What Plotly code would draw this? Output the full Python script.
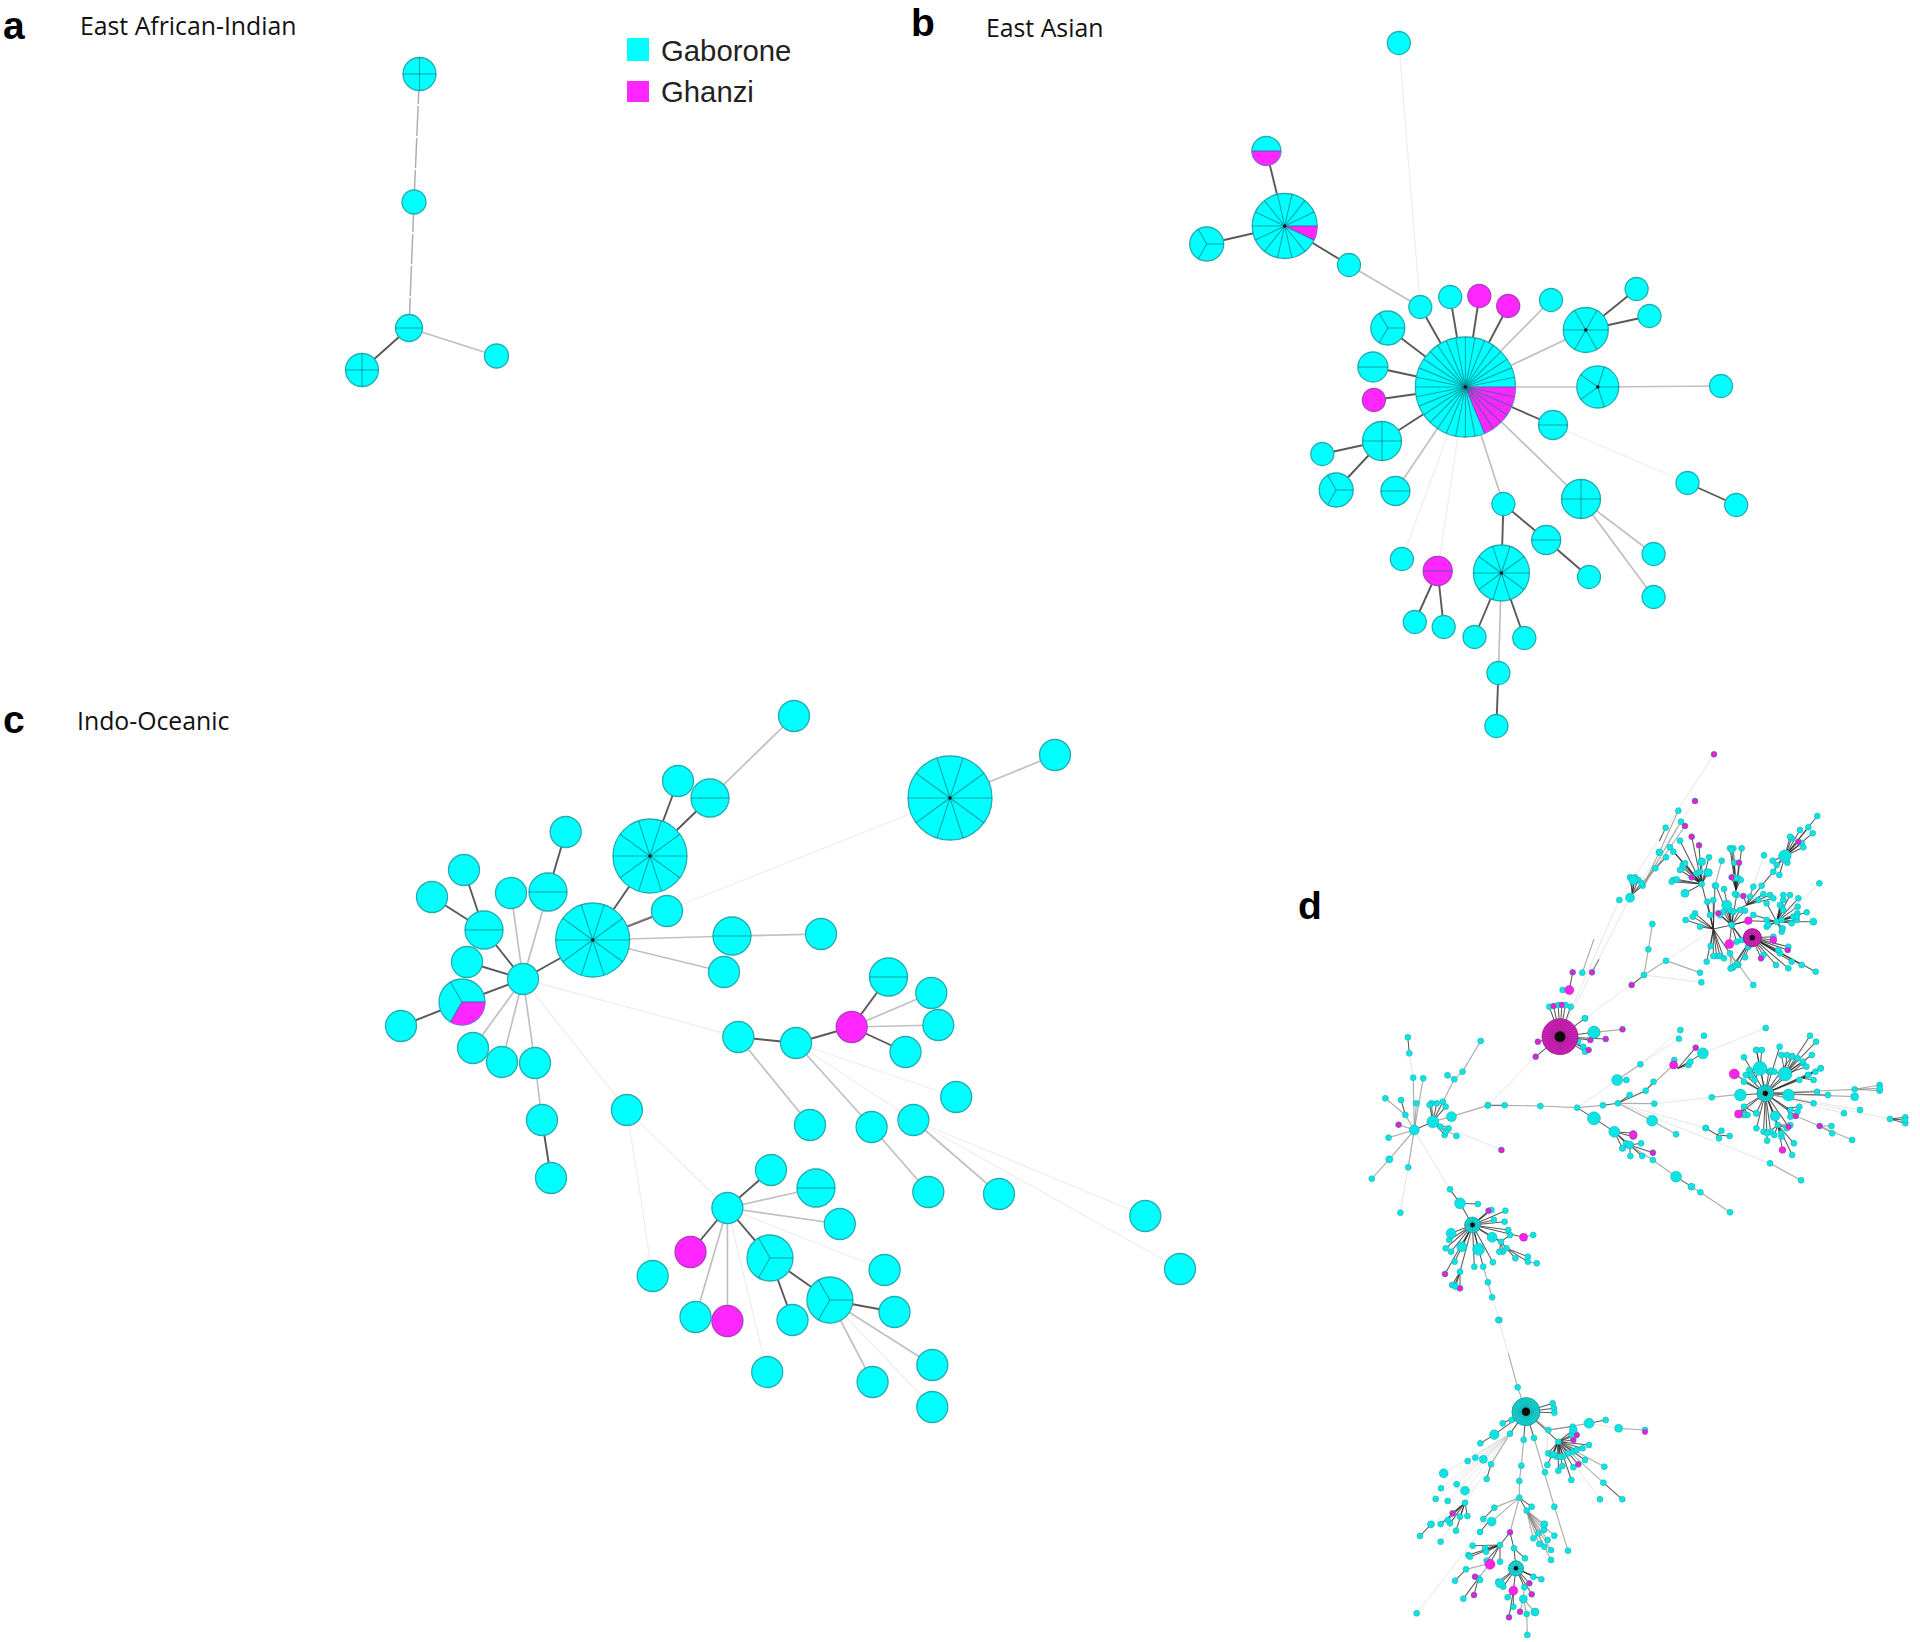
import math
import plotly.graph_objects as go

W, H = 1920, 1642
CYAN, MAG = "#00FFFF", "#FF26FF"

# ---------- panel a ----------
a_x = [419.5, 414, 409, 362, 496.5]
a_y = [74, 202, 328, 370, 356]
a_r = [16.5, 12, 13.5, 16.5, 12]
a_n = [4, 1, 2, 4, 1]
a_g = [0, 0, 0, 0, 0]
a_edges = [(0, 1, 3), (1, 2, 3), (2, 3, 0), (2, 4, 1)]

# ---------- panel b ----------
b_x = [1398.8, 1266.4, 1284.7, 1206.7, 1349, 1420.3, 1450.2, 1479.3, 1508.2, 1551, 1585.8, 1636.6, 1649.5, 1465.4, 1387.8, 1372.9, 1373.9,
       1597.8, 1721, 1553, 1382, 1322.3, 1336.2, 1395.4, 1503.4, 1581, 1687.5, 1736.2, 1546.2, 1401.9, 1437.7, 1501.4, 1589, 1653.6, 1653.6,
       1414.8, 1443.7, 1474.5, 1524.3, 1498.4, 1496.4]
b_y = [43, 151, 226, 244, 265, 307, 297, 296, 306, 300, 330, 289, 316, 387, 328, 367, 400,
       387, 386, 425, 441, 454, 490, 491, 504, 499, 483, 505, 540, 559, 571, 573, 577, 554, 597,
       622, 627, 637, 638, 673, 726]
b_r = [11.5, 14.5, 32.5, 17, 11.5, 11.5, 11.5, 11.5, 11.5, 11.5, 22.5, 11.5, 11.5, 50, 17, 15, 11.5,
       21, 11.5, 14.5, 19.5, 11.5, 17, 14.5, 11.5, 19.5, 11.5, 11.5, 14.5, 11.5, 14.5, 28, 11.5, 11.5, 11.5,
       11.5, 11.5, 11.5, 11.5, 11.5, 11.5]
b_n = [1, 2, 14, 3, 1, 1, 1, 1, 1, 1, 6, 1, 1, 32, 3, 2, 1,
       5, 1, 2, 4, 1, 3, 2, 1, 4, 1, 1, 2, 1, 2, 10, 1, 1, 1,
       1, 1, 1, 1, 1, 1]
b_g = [0, 1, 1, 0, 0, 0, 0, 1, 1, 0, 0, 0, 0, 6, 0, 0, 1,
       0, 0, 0, 0, 0, 0, 0, 0, 0, 0, 0, 0, 0, 2, 0, 0, 0, 0,
       0, 0, 0, 0, 0, 0]
b_edges = [(13, 5, 0), (5, 4, 1), (4, 2, 0), (2, 1, 0), (2, 3, 0), (5, 0, 2), (13, 6, 0), (13, 7, 0), (13, 8, 0),
           (13, 9, 1), (13, 10, 1), (10, 11, 0), (10, 12, 0), (13, 14, 0), (13, 15, 0), (13, 16, 0), (13, 17, 1),
           (17, 18, 1), (13, 19, 0), (13, 20, 0), (20, 21, 0), (20, 22, 0), (13, 23, 1), (13, 29, 2), (13, 30, 2),
           (13, 24, 1), (13, 25, 1), (19, 26, 2), (26, 27, 0), (24, 28, 0), (24, 31, 0), (28, 32, 0), (25, 33, 1),
           (25, 34, 1), (30, 35, 0), (30, 36, 0), (31, 37, 0), (31, 38, 0), (31, 39, 1), (39, 40, 0)]

# ---------- panel c ----------
c_x = [794, 678, 710, 650, 592.7, 565.7, 464, 432, 511, 548, 484, 667, 732, 821, 724, 467, 523, 462, 401, 473, 502, 535,
       888.5, 931.3, 938.3, 851.7, 905.5, 796, 738.3, 956.2, 626.9, 810, 871.6, 913.4, 771, 816, 727.4, 839.8, 928.3, 999, 1145.3, 1180, 690.5, 770,
       652.7, 884.6, 829.9, 894.5, 695.5, 727.4, 792.5, 767.2, 872.6, 932.3, 932.3, 542, 551, 950, 1055]
c_y = [716, 781, 798, 856, 940, 832, 870, 897, 893, 892, 930, 911, 936, 934, 972, 962, 979, 1002, 1026, 1048, 1062, 1063,
       977, 993, 1025, 1027, 1052, 1043, 1037, 1097, 1110, 1125, 1127, 1120, 1170, 1188, 1208, 1224, 1192, 1194, 1216,
       1269, 1252, 1258, 1276, 1270, 1300, 1312, 1317, 1321, 1320, 1372, 1382, 1365, 1407, 1120, 1178, 798, 755]
c_r = [15.5, 15.5, 19, 37, 37, 15.5, 15.5, 15.5, 15.5, 19, 19, 15.5, 19, 15.5, 15.5, 15.5, 15.5, 23, 15.5, 15.5, 15.5, 15.5,
       19, 15.5, 15.5, 15.5, 15.5, 15.5, 15.5, 15.5, 15.5, 15.5, 15.5, 15.5, 15.5, 19, 15.5, 15.5, 15.5, 15.5, 15.5,
       15.5, 15.5, 23, 15.5, 15.5, 23, 15.5, 15.5, 15.5, 15.5, 15.5, 15.5, 15.5, 15.5, 15.5, 15.5, 42, 15.5]
c_n = [1, 1, 2, 10, 10, 1, 1, 1, 1, 2, 2, 1, 2, 1, 1, 1, 1, 3, 1, 1, 1, 1,
       2, 1, 1, 1, 1, 1, 1, 1, 1, 1, 1, 1, 1, 2, 1, 1, 1, 1, 1,
       1, 1, 3, 1, 1, 3, 1, 1, 1, 1, 1, 1, 1, 1, 1, 1, 10, 1]
c_g = [0, 0, 0, 0, 0, 0, 0, 0, 0, 0, 0, 0, 0, 0, 0, 0, 0, 1, 0, 0, 0, 0,
       0, 0, 0, 1, 0, 0, 0, 0, 0, 0, 0, 0, 0, 0, 0, 0, 0, 0, 0,
       0, 1, 0, 0, 0, 0, 0, 0, 1, 0, 0, 0, 0, 0, 0, 0, 0, 0]
c_edges = [(0, 2, 1), (1, 3, 0), (2, 3, 0), (3, 4, 0), (4, 11, 0), (4, 12, 1), (12, 13, 1), (4, 14, 1), (4, 16, 0),
           (4, 57, 2), (57, 58, 1), (16, 8, 1), (16, 9, 1), (9, 5, 0), (16, 10, 0), (10, 6, 0), (10, 7, 0), (16, 15, 0),
           (16, 17, 0), (17, 18, 0), (16, 19, 1), (16, 20, 1), (16, 21, 1), (21, 55, 1), (55, 56, 0),
           (16, 28, 2), (28, 27, 0), (27, 25, 0), (25, 22, 0), (25, 23, 1), (25, 24, 1), (25, 26, 0),
           (28, 31, 1), (27, 32, 1), (27, 29, 2), (27, 33, 2), (32, 38, 1), (33, 39, 1), (33, 40, 2), (33, 41, 2),
           (16, 30, 2), (30, 36, 2), (30, 44, 2), (36, 34, 0), (36, 35, 1), (36, 37, 1), (36, 42, 0), (36, 43, 0),
           (36, 48, 1), (36, 49, 1), (36, 51, 2), (36, 45, 2), (43, 46, 0), (43, 50, 0), (46, 47, 0), (46, 52, 1),
           (46, 53, 1), (46, 54, 2)]

# ---------- panel d: read region by region, in crop pixels ----------
d6_origin = (1500, 740, 3.0, 3.0)
d6_fans = [
    (397, 462, 0, [(395, 415), (405, 412), (415, 420), (428, 437), (390, 412), (402, 425), (425, 430)]),
    (397, 460, 1, [(466, 385)]), (466, 385, 0, [(498, 352)]),
    (430, 437, 1, [(478, 337), (543, 245), (555, 258)]), (478, 337, 1, [(535, 212)]), (478, 304, 0, [(497, 263)]),
    (390, 473, 2, [(585, 183)]), (358, 480, 2, [(642, 43)]),
    (605, 432, 0, [(520, 420), (530, 418), (515, 425), (555, 460), (520, 335), (510, 322), (540, 302), (575, 290),
                   (597, 316), (605, 365), (627, 352), (625, 398), (590, 400), (548, 375), (575, 412), (548, 383),
                   (600, 395), (620, 395), (540, 390), (555, 370)]),
    (640, 567, 0, [(605, 432), (585, 520), (578, 530), (557, 540), (600, 560), (630, 525), (622, 485), (640, 480),
                   (645, 437), (632, 618), (620, 665), (650, 648), (640, 648), (660, 648), (672, 655), (690, 640),
                   (695, 555)]),
    (645, 437, 1, [(665, 362)]),
    (695, 555, 0, [(680, 495), (700, 515), (720, 510), (655, 520), (670, 515), (690, 510), (735, 512), (710, 465),
                   (660, 525), (672, 447), (648, 437), (688, 612), (710, 605), (725, 600), (745, 620), (745, 542)]),
    (708, 450, 0, [(700, 410), (715, 415), (722, 420), (695, 412), (690, 325), (700, 325), (725, 325), (703, 368),
                   (717, 368), (705, 462), (695, 330), (708, 415)]),
    (740, 495, 0, [(730, 468), (760, 440), (785, 437), (775, 480), (750, 470), (810, 465), (820, 475), (790, 462), (700, 515)]),
    (740, 495, 2, [(792, 346)]),
    (785, 437, 0, [(820, 395)]), (820, 395, 0, [(855, 348)]),
    (855, 348, 0, [(875, 295), (905, 310), (910, 322), (900, 270), (925, 262), (952, 228), (938, 280), (870, 290),
                   (895, 305), (818, 362), (838, 405), (862, 368), (830, 375), (845, 348)]),
    (830, 545, 0, [(845, 500), (850, 480), (840, 495), (850, 510), (845, 540), (850, 465), (895, 475), (870, 465),
                   (893, 500), (892, 520), (920, 517), (940, 545), (875, 550), (890, 540), (800, 540), (800, 560),
                   (845, 575), (805, 555), (880, 530), (890, 530), (800, 490), (760, 525), (848, 565)]),
    (830, 545, 2, [(958, 430)]),
    (745, 542, 0, [(830, 545), (695, 555)]),
    (757, 593, 0, [(820, 600), (863, 630), (865, 620), (840, 640), (875, 665), (865, 685), (905, 675), (947, 695),
                   (783, 655), (790, 645), (828, 675), (820, 590), (835, 630), (735, 652), (745, 620), (715, 675),
                   (700, 682), (693, 685)]),
    (690, 640, 1, [(760, 735), (710, 672), (700, 680), (692, 685)]),
    (640, 567, 2, [(498, 662)]), (498, 662, 1, [(432, 705), (600, 698)]), (432, 705, 1, [(445, 628)]),
    (445, 628, 1, [(457, 552)]), (432, 705, 2, [(604, 727)]), (432, 705, 0, [(395, 735)]),
    (432, 705, 2, [(255, 835)]),
    (208, 750, 0, [(218, 697), (188, 750)]), (282, 597, 1, [(247, 698)]), (297, 658, 0, [(276, 697)]),
    (180, 885, 2, [(358, 480), (390, 473)]),
]
d6_big = [(390, 473, 4.6, "c"), (208, 750, 4.5, "m"), (282, 877, 6, "c"), (855, 348, 6.2, "c"), (680, 495, 5, "c"),
          (757, 593, 9, "m"), (688, 612, 4.5, "m"), (745, 542, 3.8, "m"), (820, 600, 3.4, "m"), (940, 545, 3.5, "c"),
          (555, 460, 4, "c"), (605, 365, 4, "c"), (625, 398, 4, "c"), (478, 337, 3.4, "c"), (400, 420, 4.6, "c")]
d6_mag = [(642, 43), (585, 183), (575, 290), (597, 316), (717, 368), (695, 412), (730, 468), (575, 412), (655, 520),
          (863, 630), (783, 655), (555, 258), (395, 735), (218, 697), (276, 697), (895, 305)]

d7_origin = (1360, 1000, 2.8, 3.0)
d7_fans = [
    (560, 110, 0, [(530, 20), (542, 18), (555, 15), (565, 15), (575, 15), (590, 20), (655, 97), (688, 117), (645, 120),
                   (640, 150), (600, 105), (630, 55), (492, 170), (498, 125), (610, 125), (625, 140), (630, 155)]),
    (655, 97, 1, [(735, 88)]),
    (492, 170, 2, [(358, 316)]),
    (358, 316, 0, [(405, 316)]), (405, 316, 1, [(505, 318)]), (505, 318, 1, [(608, 323)]), (608, 323, 1, [(680, 316)]),
    (680, 316, 0, [(722, 310)]), (722, 310, 1, [(824, 311)]), (824, 311, 2, [(985, 292)]), (985, 292, 1, [(1060, 283)]),
    (608, 323, 0, [(655, 355)]), (655, 355, 0, [(712, 395)]), (712, 395, 0, [(755, 435), (765, 400), (765, 410), (735, 445), (745, 430)]),
    (755, 435, 0, [(787, 430), (820, 458), (757, 468), (790, 468), (735, 445)]),
    (755, 435, 1, [(820, 480)]), (820, 480, 1, [(885, 530)]), (885, 530, 0, [(928, 560)]),
    (928, 560, 1, [(953, 577)]), (953, 577, 1, [(1036, 637)]),
    (608, 323, 2, [(720, 240)]), (720, 240, 1, [(785, 193), (746, 240)]), (785, 193, 2, [(897, 90), (893, 116)]),
    (722, 310, 0, [(800, 272), (755, 285)]), (800, 272, 0, [(822, 245)]), (800, 272, 1, [(878, 195)]),
    (890, 205, 0, [(920, 195), (925, 185), (960, 160), (940, 143), (880, 180)]),
    (960, 160, 2, [(1136, 84)]), (890, 205, 2, [(963, 107)]),
    (722, 310, 1, [(818, 362)]), (818, 362, 1, [(885, 403)]),
    (722, 310, 2, [(1148, 490), (968, 384)]), (1148, 490, 1, [(1235, 541)]),
    (1000, 405, 0, [(968, 384), (1035, 408), (1012, 392), (1005, 415)]),
    (1135, 280, 0, [(1065, 285), (1060, 342), (1048, 222), (1075, 172), (1080, 225), (1110, 150), (1120, 205), (1145, 215),
                    (1190, 222), (1175, 140), (1210, 168), (1240, 190), (1290, 205), (1200, 285), (1280, 275), (1310, 285),
                    (1270, 310), (1205, 330), (1162, 348), (1110, 340), (1075, 320), (1110, 385), (1130, 395), (1170, 375),
                    (1200, 380), (1220, 348), (1180, 410), (1140, 422), (1150, 395), (1075, 245), (1230, 240), (1255, 225)]),
    (1135, 280, 2, [(1355, 340), (1400, 330), (1484, 357)]),
    (1135, 280, 1, [(1385, 290), (1385, 268)]), (1385, 268, 1, [(1455, 255), (1455, 272), (1455, 265)]),
    (1190, 222, 0, [(1180, 165), (1195, 165), (1210, 170), (1225, 175), (1240, 185), (1250, 200), (1265, 165), (1260, 107), (1277, 125), (1150, 215)]),
    (1120, 205, 0, [(1110, 150), (1125, 150), (1090, 210), (1095, 225), (1105, 240), (1150, 212), (1160, 215)]),
    (1195, 325, 0, [(1230, 320), (1225, 335), (1205, 350)]),
    (1170, 375, 0, [(1140, 400), (1160, 405), (1180, 400), (1195, 385), (1205, 375), (1183, 450), (1210, 465), (1215, 430)]),
    (1240, 235, 0, [(1290, 205), (1275, 215), (1255, 225), (1270, 240)]),
    (1075, 320, 0, [(1060, 342), (1085, 345), (1075, 345), (1110, 340)]),
    (1220, 348, 1, [(1287, 378)]), (1287, 378, 1, [(1320, 378), (1322, 400), (1378, 420)]),
    (1484, 357, 0, [(1527, 352), (1527, 370), (1525, 360)]),
    (152, 390, 1, [(108, 374), (80, 413), (82, 478), (135, 502), (127, 345), (158, 310), (149, 233), (177, 235)]),
    (82, 478, 1, [(33, 536)]), (152, 390, 2, [(113, 638), (252, 568)]),
    (127, 345, 1, [(71, 295)]), (127, 345, 0, [(115, 300)]), (149, 233, 2, [(138, 160)]), (138, 160, 0, [(134, 112)]),
    (152, 390, 0, [(204, 365)]),
    (204, 365, 0, [(200, 310), (215, 310), (232, 305), (240, 320), (195, 315), (237, 405), (248, 385), (240, 395), (225, 380)]),
    (204, 365, 1, [(256, 350), (264, 238), (270, 408)]), (256, 350, 1, [(358, 316)]),
    (264, 238, 1, [(245, 226), (287, 215)]), (287, 215, 1, [(338, 123)]),
    (204, 365, 2, [(396, 450)]),
    (252, 568, 0, [(280, 610)]), (280, 610, 0, [(330, 612), (315, 675)]),
    (315, 675, 0, [(360, 632), (368, 630), (375, 660), (407, 632), (405, 665), (415, 690), (458, 712), (370, 712), (255, 700),
                   (250, 720), (240, 745), (255, 755), (285, 740), (332, 748), (265, 785), (280, 815), (320, 800), (345, 800),
                   (372, 787), (238, 822), (395, 725)]),
    (458, 712, 1, [(485, 705)]),
    (395, 725, 0, [(400, 755), (390, 755), (410, 745), (420, 705), (370, 712)]),
    (410, 745, 0, [(435, 775), (470, 770), (470, 785)]), (470, 785, 1, [(495, 790)]),
    (345, 800, 1, [(358, 847)]), (358, 847, 1, [(370, 892)]), (370, 892, 2, [(390, 960)]),
    (280, 815, 0, [(265, 855), (280, 865), (258, 855), (268, 860)]),
]
d7_big = [(655, 97, 6, "c"), (655, 355, 6.5, "c"), (712, 395, 5.5, "c"), (755, 435, 4, "c"), (885, 530, 5.5, "c"),
          (928, 560, 3.5, "c"), (720, 240, 5.5, "c"), (878, 195, 4, "m"), (960, 160, 5.5, "c"), (818, 362, 5.5, "c"),
          (1065, 285, 6, "c"), (1060, 342, 4, "m"), (1048, 222, 5, "m"), (1120, 205, 7, "c"), (1190, 222, 7, "c"),
          (1200, 285, 6, "c"), (1385, 290, 4, "c"), (1162, 348, 5, "c"), (152, 390, 5, "c"), (204, 365, 6, "c"),
          (256, 350, 5, "c"), (82, 478, 3.5, "c"), (280, 610, 5.5, "c"), (370, 712, 5, "c"), (255, 700, 5, "c"),
          (285, 740, 5, "c"), (332, 748, 6, "c"), (458, 712, 4, "m"), (765, 405, 4, "m"), (1183, 450, 3.3, "m")]
d7_mag = [(735, 88), (688, 117), (645, 120), (640, 150), (492, 170), (498, 125), (820, 458), (940, 143), (1200, 380),
          (1220, 348), (1287, 378), (108, 374), (396, 450), (360, 632), (238, 822), (280, 865), (542, 18), (565, 15)]

d8_origin = (1400, 1320, 3.0, 3.0)
d8_fans = [
    (325, 100, 2, [(295, 0)]), (325, 100, 1, [(353, 202)]), (353, 202, 1, [(378, 275)]),
    (378, 275, 0, [(458, 250), (462, 265), (463, 278), (408, 280), (308, 310), (335, 300), (283, 344), (330, 341), (371, 359),
                   (402, 354), (475, 365)]),
    (283, 344, 0, [(241, 370)]), (378, 275, 1, [(445, 330)]),
    (475, 365, 0, [(445, 400), (455, 405), (470, 410), (490, 410), (505, 400), (520, 395), (530, 390), (548, 385), (567, 375),
                   (520, 360), (530, 345), (520, 330), (515, 345), (475, 452), (487, 438), (442, 435), (520, 442), (535, 433),
                   (555, 420), (460, 403), (480, 410), (514, 480)]),
    (445, 330, 1, [(567, 310), (518, 320)]), (445, 330, 2, [(435, 457)]), (567, 310, 0, [(617, 300)]), (567, 310, 2, [(656, 325)]),
    (656, 325, 1, [(735, 330)]),
    (475, 365, 1, [(613, 440), (610, 488)]), (610, 488, 0, [(667, 538)]), (475, 365, 2, [(600, 538)]),
    (402, 354, 1, [(463, 560)]), (463, 560, 1, [(504, 692)]),
    (371, 359, 1, [(364, 437)]), (364, 437, 1, [(358, 483)]), (358, 483, 1, [(358, 533)]),
    (358, 533, 0, [(395, 560), (380, 572)]), (358, 533, 1, [(283, 563), (275, 605), (330, 637)]),
    (283, 563, 0, [(250, 597)]), (270, 600, 0, [(240, 636), (275, 605)]),
    (380, 572, 1, [(400, 655), (415, 640), (433, 613), (432, 630), (463, 647), (443, 660), (453, 690), (433, 680), (418, 672), (453, 720)]),
    (330, 637, 0, [(300, 675), (342, 685)]), (342, 685, 0, [(375, 715), (348, 745)]),
    (300, 675, 0, [(255, 685), (258, 695), (205, 705), (210, 710), (270, 730), (260, 722), (300, 725), (218, 677)]),
    (270, 730, 1, [(198, 748), (235, 775)]), (198, 748, 0, [(165, 782)]), (235, 775, 0, [(190, 836), (225, 770), (222, 825), (240, 780)]),
    (348, 745, 0, [(295, 785), (300, 790), (310, 800), (340, 812), (373, 802), (388, 790), (400, 770), (424, 778), (395, 823)]),
    (340, 812, 0, [(323, 832), (340, 860), (327, 892)]), (373, 802, 1, [(370, 837)]),
    (370, 837, 1, [(360, 875), (380, 882), (405, 876)]), (380, 882, 1, [(382, 945)]),
    (330, 341, 1, [(273, 433)]), (273, 433, 0, [(260, 477)]),
    (330, 341, 2, [(195, 512), (170, 493), (123, 505), (107, 537), (203, 423), (226, 413), (250, 418), (131, 460), (195, 548), (143, 543)]),
    (195, 548, 0, [(158, 580), (150, 610), (168, 632), (180, 590), (202, 588), (122, 612), (143, 600)]),
    (93, 613, 0, [(60, 648)]), (195, 548, 2, [(93, 613), (122, 665)]),
    (240, 636, 2, [(50, 880)]),
]
d8_big = [(378, 275, 14, "c"), (283, 344, 4.8, "c"), (567, 310, 5, "c"), (656, 325, 4, "c"), (520, 330, 4, "c"), (250, 418, 4, "c"),
          (131, 460, 4.5, "c"), (195, 512, 4.5, "c"), (275, 605, 4.5, "c"), (348, 745, 7.5, "c"), (270, 733, 5, "m"), (340, 812, 4.5, "m"),
          (300, 790, 4.5, "c"), (370, 837, 4, "c"), (405, 876, 4, "c"), (93, 613, 3.5, "c"), (433, 613, 3.5, "c")]
d8_mag = [(408, 280), (530, 345), (520, 360), (535, 433), (388, 790), (395, 823), (360, 875), (327, 892), (330, 637), (225, 770),
          (222, 825), (158, 580), (735, 336)]

# spoked hubs of panel d: crop x, crop y, crop region, radius, spokes, colour key
d_hub_region = [6, 7, 7, 8, 7, 8]
d_hub_x = [757, 560, 1135, 378, 315, 348]
d_hub_y = [593, 110, 280, 275, 675, 745]
d_hub_r = [9, 18, 8.5, 14, 8, 7.5]
d_hub_n = [14, 40, 20, 40, 16, 12]
d_hub_g = [1, 1, 0, 0, 0, 0]

# ---------- text ----------
legend_names = ["Gaborone", "Ghanzi"]
panel_letters = ["a", "b", "c", "d"]
letter_x = [1, 909, 1, 1296]
letter_y = [25, 22, 719, 905]
panel_titles = ["East African-Indian", "East Asian", "Indo-Oceanic"]
title_x = [78, 984, 75]
title_y = [25, 27, 720]

STY = [("rgba(60,60,60,0.85)", 1.9), ("rgba(150,150,150,0.6)", 1.7), ("rgba(205,205,205,0.35)", 1.3),
       ("rgba(140,140,140,0.7)", 1.5)]
DSTY = [("rgba(35,35,35,0.75)", 1.05), ("rgba(130,130,130,0.65)", 1.2), ("rgba(190,190,190,0.4)", 1.0)]

fig = go.Figure()


def add_edges(ex, ey, sty):
    for w in range(len(ex)):
        fig.add_trace(go.Scatter(x=ex[w], y=ey[w], mode="lines", hoverinfo="skip",
                                 line=dict(color=sty[w][0], width=sty[w][1], dash="30px,2px" if w == 3 else "solid")))


ex, ey = [[], [], [], []], [[], [], [], []]
for xs, ys, es in [(a_x, a_y, a_edges), (b_x, b_y, b_edges), (c_x, c_y, c_edges)]:
    for i, j, w in es:
        ex[w] += [xs[i], xs[j], None]
        ey[w] += [ys[i], ys[j], None]
add_edges(ex, ey, STY)


def to_px(origin, x, y):
    return origin[0] + x / origin[2], origin[1] + y / origin[3]


regions = {6: (d6_origin, d6_fans, d6_big, d6_mag), 7: (d7_origin, d7_fans, d7_big, d7_mag), 8: (d8_origin, d8_fans, d8_big, d8_mag)}
dex, dey = [[], [], []], [[], [], []]
dot_x, dot_y, mag_x, mag_y = [], [], [], []
big = []
for key, (org, fans, bigs, mags) in regions.items():
    for hx, hy, w, kids in fans:
        px, py = to_px(org, hx, hy)
        for kx, ky in kids:
            qx, qy = to_px(org, kx, ky)
            dex[w] += [px, qx, None]
            dey[w] += [py, qy, None]
            dot_x.append(qx)
            dot_y.append(qy)
    for x, y, r, k in bigs:
        big.append((*to_px(org, x, y), r, k))
    for x, y in mags:
        qx, qy = to_px(org, x, y)
        mag_x.append(qx)
        mag_y.append(qy)
add_edges(dex, dey, DSTY)

fig.add_trace(go.Scatter(x=dot_x, y=dot_y, mode="markers", hoverinfo="skip",
                         marker=dict(size=6, color="#0CE4E4", opacity=1, line=dict(color="#22A9A9", width=0.5))))
bigc = [b for b in big if b[3] == "c"]
bigm = [b for b in big if b[3] == "m"]
fig.add_trace(go.Scatter(x=[b[0] for b in bigc], y=[b[1] for b in bigc], mode="markers", hoverinfo="skip",
                         marker=dict(size=[2 * b[2] for b in bigc], color="#0CE4E4", opacity=1,
                                     line=dict(color="#22A9A9", width=0.5))))
fig.add_trace(go.Scatter(x=mag_x, y=mag_y, mode="markers", hoverinfo="skip",
                         marker=dict(size=5.2, color="#F01CD8", opacity=1, line=dict(color="#B0209A", width=0.4))))
fig.add_trace(go.Scatter(x=[b[0] for b in bigm], y=[b[1] for b in bigm], mode="markers", hoverinfo="skip",
                         marker=dict(size=[2 * b[2] for b in bigm], color="#F822E8", opacity=1,
                                     line=dict(color="#B0209A", width=0.5))))

# spoked hubs of d
spx, spy, cx, cy, cs = [], [], [], [], []
for reg, hx, hy, r, n, g in zip(d_hub_region, d_hub_x, d_hub_y, d_hub_r, d_hub_n, d_hub_g):
    px, py = to_px(regions[reg][0], hx, hy)
    fig.add_trace(go.Scatter(x=[px], y=[py], mode="markers", hoverinfo="skip",
                             marker=dict(size=2 * r, color="#D01EB8" if g else "#12D8D8", opacity=1,
                                         line=dict(color="#8E1C80" if g else "#1E9C9C", width=0.7))))
    for k in range(n):
        t = 2 * math.pi * k / n
        spx += [px, px + r * math.cos(t), None]
        spy += [py, py + r * math.sin(t), None]
    cx.append(px)
    cy.append(py)
    cs.append(max(3, r * 0.6))
fig.add_trace(go.Scatter(x=spx, y=spy, mode="lines", hoverinfo="skip", line=dict(color="rgba(40,40,40,0.3)", width=0.6)))
fig.add_trace(go.Scatter(x=cx, y=cy, mode="markers", hoverinfo="skip",
                         marker=dict(size=cs, color="#0A0A0A", opacity=1, line=dict(width=0))))

# pie nodes of a, b, c
nx, ny, nr, nc, nl = [], [], [], [], []
for xs, ys, rs, ns, gs in [(a_x, a_y, a_r, a_n, a_g), (b_x, b_y, b_r, b_n, b_g), (c_x, c_y, c_r, c_n, c_g)]:
    for x, y, r, n, g in zip(xs, ys, rs, ns, gs):
        nx.append(x)
        ny.append(y)
        nr.append(2 * r)
        nc.append(MAG if g == n else CYAN)
        nl.append("#B23CC0" if g == n else "#22AEB0")
fig.add_trace(go.Scatter(x=nx, y=ny, mode="markers", hoverinfo="skip",
                         marker=dict(size=nr, color=nc, opacity=1, line=dict(color=nl, width=1.3))))

slx, sly, dotx, doty = [], [], [], []
for xs, ys, rs, ns, gs in [(a_x, a_y, a_r, a_n, a_g), (b_x, b_y, b_r, b_n, b_g), (c_x, c_y, c_r, c_n, c_g)]:
    for x, y, r, n, g in zip(xs, ys, rs, ns, gs):
        if 0 < g < n:
            end = 2 * math.pi * g / n
            px, py = [x], [y]
            for s in range(41):
                t = end * s / 40
                px.append(x + r * math.cos(t))
                py.append(y + r * math.sin(t))
            px.append(x)
            py.append(y)
            fig.add_trace(go.Scatter(x=px, y=py, mode="lines", fill="toself", fillcolor=MAG, hoverinfo="skip",
                                     line=dict(color=MAG, width=0.5)))
        if n > 1:
            for k in range(n):
                t = 2 * math.pi * k / n
                slx += [x, x + r * math.cos(t), None]
                sly += [y, y + r * math.sin(t), None]
        if n >= 5:
            dotx.append(x)
            doty.append(y)
fig.add_trace(go.Scatter(x=slx, y=sly, mode="lines", hoverinfo="skip", line=dict(color="rgba(10,120,125,0.65)", width=1.1)))
fig.add_trace(go.Scatter(x=dotx, y=doty, mode="markers", hoverinfo="skip",
                         marker=dict(size=3.5, color="#111111", opacity=1, line=dict(width=0))))

ann = []
for t, x, y in zip(panel_letters, letter_x, letter_y):
    ann.append(dict(x=x, y=y, text=f"<b>{t}</b>", showarrow=False, xanchor="left", yanchor="middle",
                    font=dict(family="Liberation Sans", size=39, color="#000000")))
for t, x, y in zip(panel_titles, title_x, title_y):
    ann.append(dict(x=x, y=y, text=t, showarrow=False, xanchor="left", yanchor="middle",
                    font=dict(family="Open Sans", size=24.8, color="#111111")))
for t, y in zip(legend_names, [50, 91]):
    ann.append(dict(x=659, y=y, text=t, showarrow=False, xanchor="left", yanchor="middle",
                    font=dict(family="Liberation Sans", size=29.3, color="#222222")))

shapes = [dict(type="rect", x0=627, x1=649, y0=38, y1=61, fillcolor="#00FFFF", line=dict(width=0), layer="above"),
          dict(type="rect", x0=627, x1=649, y0=81, y1=102, fillcolor="#FF26FF", line=dict(width=0), layer="above")]

fig.update_layout(width=W, height=H, margin=dict(l=0, r=0, t=0, b=0), showlegend=False,
                  paper_bgcolor="white", plot_bgcolor="white", annotations=ann, shapes=shapes,
                  xaxis=dict(range=[0, W], visible=False, fixedrange=True),
                  yaxis=dict(range=[H, 0], visible=False, fixedrange=True))
fig.write_html("out.html", config=dict(displayModeBar=False),
               post_script="document.body.style.margin='0';document.body.style.overflow='hidden';")
